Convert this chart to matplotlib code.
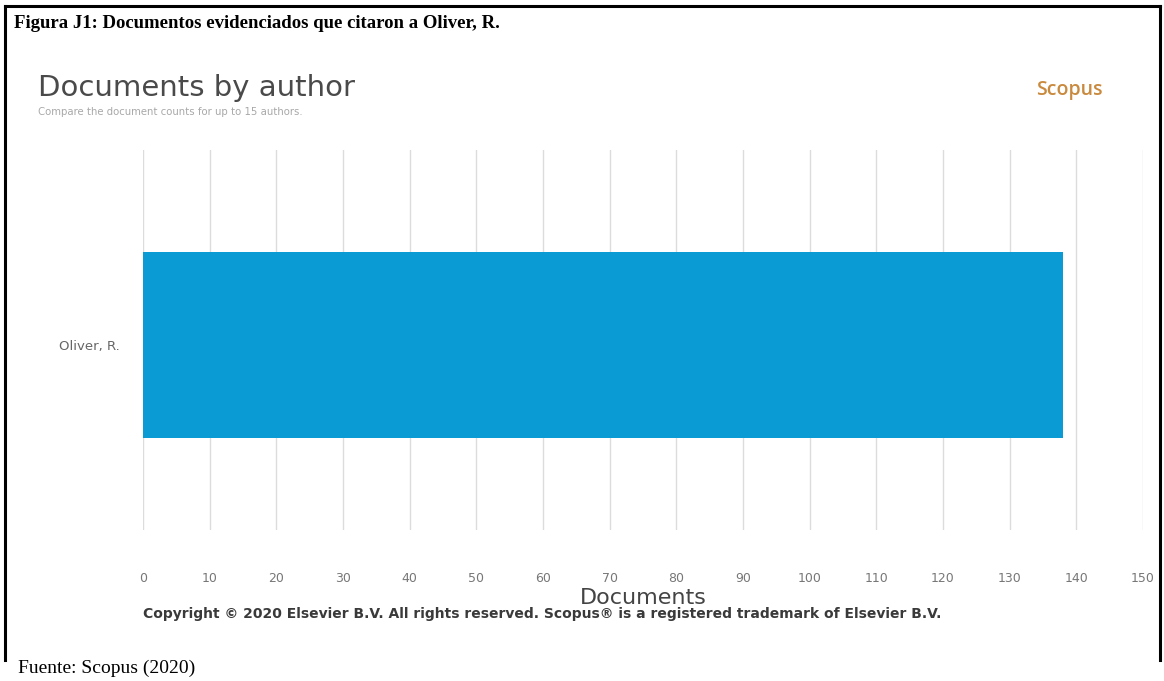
import matplotlib.pyplot as plt
from matplotlib.lines import Line2D

# Datos
autores = ['Oliver, R.']
documentos = [138]
ticks_x = list(range(0, 151, 10))

W, H = 1164, 681

def fy(py):
    # pixel vertical (desde arriba) a coordenada de figura
    return 1 - py / H

def fx(px):
    return px / W

fig = plt.figure(figsize=(W / 100, H / 100), dpi=100)
fig.patch.set_facecolor('white')

# Marco del documento
for xs, ys in [((5, 5), (6, 660)), ((5, 1160), (6, 6)), ((1160, 1160), (6, 660))]:
    fig.add_artist(Line2D([fx(x) for x in xs], [fy(y) for y in ys], color='black', lw=2.2))

fig.text(fx(14), fy(23), 'Figura J1: Documentos evidenciados que citaron a Oliver, R.',
         family='Liberation Serif', weight='bold', fontsize=13.5, va='center', ha='left')
fig.text(fx(18), fy(668), 'Fuente: Scopus (2020)', family='Liberation Serif',
         fontsize=14, va='center', ha='left')

# Encabezado del grafico de Scopus
fig.text(fx(38), fy(88), 'Documents by author', fontsize=21, color='#4a4a4a',
         va='center', ha='left', family='DejaVu Sans')
fig.text(fx(38), fy(112), 'Compare the document counts for up to 15 authors.',
         fontsize=7.3, color='#a8a8a8', va='center', ha='left')
fig.text(fx(1103), fy(90), 'Scopus', fontsize=14, color='#c98a3e',
         va='center', ha='right', family='Open Sans', weight='semibold')

ax = fig.add_axes([fx(143), fy(530), fx(1000), 380 / H])
ax.barh(autores, documentos, height=0.49, color='#0a9bd5', zorder=2)
ax.set_xlim(0, 150)
ax.set_ylim(-0.487, 0.513)
ax.set_xticks(ticks_x)
ax.grid(axis='x', color='#dcdcdc', lw=1, zorder=0)
for s in ax.spines.values():
    s.set_visible(False)
ax.tick_params(axis='x', length=0, pad=30, labelsize=9, labelcolor='#777777')
ax.tick_params(axis='y', length=0, pad=17, labelsize=9.5, labelcolor='#666666')

fig.text(fx(643), fy(598), 'Documents', fontsize=16, color='#444444',
         va='center', ha='center')
fig.text(fx(143), fy(614), 'Copyright \u00a9 2020 Elsevier B.V. All rights reserved. '
         'Scopus\u00ae is a registered trademark of Elsevier B.V.',
         fontsize=10, weight='bold', color='#3a3a3a', va='center', ha='left')

fig.savefig('out.png', dpi=100)
